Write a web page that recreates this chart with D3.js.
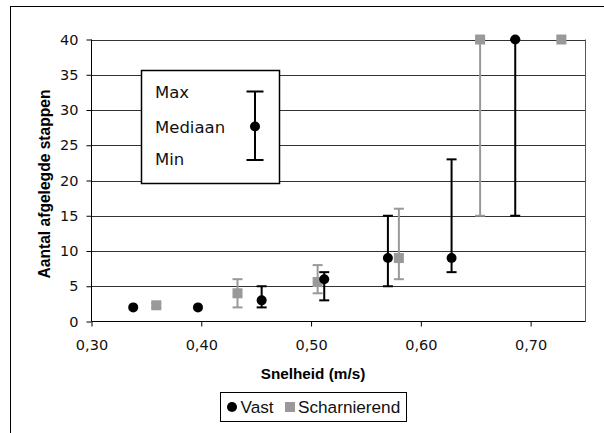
<!DOCTYPE html>
<html><head><meta charset="utf-8">
<script src="https://cdn.jsdelivr.net/npm/d3@7"></script>
<style>body{margin:0;background:#fff}svg{display:block}</style>
</head><body><svg id="c" width="604" height="433"></svg>
<script>
const vastX   = [0.338, 0.397, 0.455, 0.512, 0.570, 0.628, 0.686];
const vastMed = [2, 2, 3, 6, 9, 9, 40];
const vastMin = [2, 2, 2, 3, 5, 7, 15];
const vastMax = [2, 2, 5, 7, 15, 23, 40];
const schX    = [0.359, 0.433, 0.506, 0.580, 0.654, 0.728];
const schMed  = [2.3, 4, 5.6, 9, 40, 40];
const schMin  = [2, 2, 4, 6, 15, 40];
const schMax  = [2.6, 6, 8, 16, 40, 40];
const xTicks = [0.30, 0.40, 0.50, 0.60, 0.70];
const yTicks = [0, 5, 10, 15, 20, 25, 30, 35, 40];
const seriesNames = ["Vast", "Scharnierend"];
const statNames = ["Max", "Mediaan", "Min"];
const xTitle = "Snelheid (m/s)";
const yTitle = "Aantal afgelegde stappen";

const svg = d3.select("#c");
const L = 91.5, R = 585.5, T = 39.5, B = 321.5;
const x = d3.scaleLinear().domain([0.30, 0.75]).range([L, R]);
const y = d3.scaleLinear().domain([0, 40]).range([B, T]);
const fmt = d => d3.format(".2f")(d).replace(".", ",");
const GRAY = "#999999";

// outer frame
svg.append("rect").attr("x", 10.5).attr("y", 6.5).attr("width", 640).attr("height", 460)
  .attr("fill", "none").attr("stroke", "#000").attr("stroke-width", 1);

// gridlines
svg.append("g").selectAll("line").data(yTicks.filter(d => d > 0)).join("line")
  .attr("x1", L).attr("x2", R).attr("y1", d => Math.round(y(d)) + 0.5).attr("y2", d => Math.round(y(d)) + 0.5)
  .attr("stroke", "#333").attr("stroke-width", 1);
// right border
svg.append("line").attr("x1", R).attr("x2", R).attr("y1", T).attr("y2", B).attr("stroke", "#555");

// axes
const yAxis = d3.axisLeft(y).tickValues(yTicks).tickSize(5).tickPadding(8).tickFormat(d3.format("d"));
const gy = svg.append("g").attr("transform", `translate(${L},0)`).call(yAxis);
const xAxis = d3.axisBottom(x).tickValues(xTicks).tickSize(5).tickPadding(13).tickFormat(fmt);
const gx = svg.append("g").attr("transform", `translate(0,${B})`).call(xAxis);
[gx, gy].forEach(g => {
  g.select(".domain").attr("stroke", "#000");
  g.selectAll(".tick line").attr("stroke", "#000");
  g.selectAll("text").attr("font-family", "DejaVu Sans").attr("font-size", 14.5).attr("fill", "#111");
});
gx.select(".domain").attr("d", `M${L},0H${R}`);
gy.select(".domain").attr("d", `M0,${B}V${T}`);

// titles
svg.append("text").attr("x", 313).attr("y", 379).attr("text-anchor", "middle")
  .attr("font-family", "Liberation Sans").attr("font-weight", "bold").attr("font-size", 15.3).text(xTitle);
svg.append("text").attr("transform", "translate(50,184) rotate(-90)").attr("text-anchor", "middle")
  .attr("font-family", "Liberation Sans").attr("font-weight", "bold").attr("font-size", 15.6).text(yTitle);

function errBars(xs, mins, maxs, color) {
  const g = svg.append("g").attr("stroke", color).attr("stroke-width", 2);
  const idx = d3.range(xs.length).filter(i => maxs[i] > mins[i]);
  g.selectAll(".v").data(idx).join("line")
    .attr("x1", i => x(xs[i])).attr("x2", i => x(xs[i]))
    .attr("y1", i => y(mins[i])).attr("y2", i => y(maxs[i]));
  g.selectAll(".t").data(idx).join("line")
    .attr("x1", i => x(xs[i]) - 5).attr("x2", i => x(xs[i]) + 5)
    .attr("y1", i => y(maxs[i])).attr("y2", i => y(maxs[i]));
  g.selectAll(".b").data(idx).join("line")
    .attr("x1", i => x(xs[i]) - 5).attr("x2", i => x(xs[i]) + 5)
    .attr("y1", i => y(mins[i])).attr("y2", i => y(mins[i]));
}
// Scharnierend first (underneath)
errBars(schX, schMin, schMax, GRAY);
svg.append("g").selectAll("rect").data(d3.range(schX.length)).join("rect")
  .attr("x", i => x(schX[i]) - 5).attr("y", i => y(schMed[i]) - 5)
  .attr("width", 10).attr("height", 10).attr("fill", GRAY);
errBars(vastX, vastMin, vastMax, "#000");
svg.append("g").selectAll("circle").data(d3.range(vastX.length)).join("circle")
  .attr("cx", i => x(vastX[i])).attr("cy", i => y(vastMed[i])).attr("r", 5).attr("fill", "#000");

// inset legend
const ib = svg.append("g");
ib.append("rect").attr("x", 141.5).attr("y", 70.5).attr("width", 138).attr("height", 113)
  .attr("fill", "#fff").attr("stroke", "#000").attr("stroke-width", 1.5);
const iy = [98, 132.5, 165];
ib.selectAll("text").data(statNames).join("text").attr("x", 155).attr("y", (d, i) => iy[i])
  .attr("font-family", "DejaVu Sans").attr("font-size", 16.5).attr("fill", "#111").text(d => d);
const gx0 = 255;
ib.append("line").attr("x1", gx0).attr("x2", gx0).attr("y1", 91.5).attr("y2", 160).attr("stroke", "#000").attr("stroke-width", 2);
ib.append("line").attr("x1", gx0 - 8.5).attr("x2", gx0 + 8.5).attr("y1", 91.5).attr("y2", 91.5).attr("stroke", "#000").attr("stroke-width", 2);
ib.append("line").attr("x1", gx0 - 8.5).attr("x2", gx0 + 8.5).attr("y1", 160).attr("y2", 160).attr("stroke", "#000").attr("stroke-width", 2);
ib.append("circle").attr("cx", gx0).attr("cy", 126.5).attr("r", 5).attr("fill", "#000");

// bottom legend
const lg = svg.append("g");
lg.append("rect").attr("x", 220.5).attr("y", 392.5).attr("width", 186).attr("height", 29)
  .attr("fill", "#fff").attr("stroke", "#000").attr("stroke-width", 1);
lg.append("circle").attr("cx", 232).attr("cy", 407).attr("r", 5).attr("fill", "#000");
lg.append("rect").attr("x", 285).attr("y", 402).attr("width", 10).attr("height", 10).attr("fill", GRAY);
const lx = [240.5, 298];
lg.selectAll("text").data(seriesNames).join("text").attr("x", (d, i) => lx[i]).attr("y", 413)
  .attr("font-family", "Liberation Sans").attr("font-size", 17.2).attr("fill", "#111").text(d => d);
</script></body></html>
